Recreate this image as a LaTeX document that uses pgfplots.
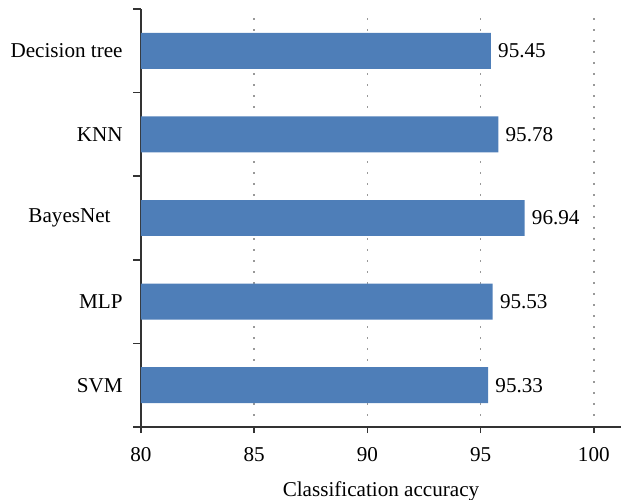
\documentclass[border=0pt]{standalone}
\usepackage{pgfplots}
\pgfplotsset{compat=1.18}
\usepackage{fontspec}
\setmainfont{Liberation Serif}
\definecolor{barblue}{RGB}{78,126,184}
\begin{document}
\fontsize{10.6}{12.5}\selectfont
\begin{tikzpicture}
\path[use as bounding box] (-70.5bp,-36.5bp) rectangle (240bp,213.5bp);
\begin{axis}[
  at={(0,0)}, anchor=south west,
  scale only axis,
  width=240bp, height=209bp,
  xmin=80, xmax=101.2,
  ymin=0.5, ymax=5.5,
  axis x line*=bottom, axis y line*=left,
  axis line style={-, black!80, line width=0.8bp},
  xtick={80,85,90,95,100},
  ytick={1,2,3,4,5},
  yticklabels={SVM,MLP,BayesNet\hspace*{6bp},KNN,Decision tree},
  ytick style={draw=none},
  tick align=outside,
  major tick length=3bp,
  xtick style={black!80, line width=0.8bp},
  /pgf/number format/assume math mode=true,
  xticklabel style={inner sep=0pt, yshift=-7bp},
  yticklabel style={inner sep=0pt, xshift=-6bp, anchor=east},
  xmajorgrids,
  grid style={black!40, line width=0.75bp, dash pattern=on 0.75bp off 4.75bp},
  xlabel={Classification accuracy},
  xlabel style={at={(axis description cs:0.5,0)}, anchor=north, inner sep=0pt, yshift=-27bp},
  nodes near coords,
  point meta=explicit symbolic,
  every node near coord/.append style={anchor=west, inner sep=0pt, xshift=3.5bp, black},
  clip=false,
]
\addplot[xbar, bar shift=0pt, bar width=0.43, fill=barblue, draw=none]
  coordinates {(95.33,1)[95.33] (95.53,2)[95.53] (96.94,3)[96.94] (95.78,4)[95.78] (95.45,5)[95.45]};
\pgfplotsinvokeforeach{0.5,1.5,2.5,3.5,4.5,5.5}{
  \draw[black!80, line width=0.8bp] (axis cs:80,#1) -- ++(-4bp,0bp);
}
\end{axis}
\end{tikzpicture}
\end{document}
